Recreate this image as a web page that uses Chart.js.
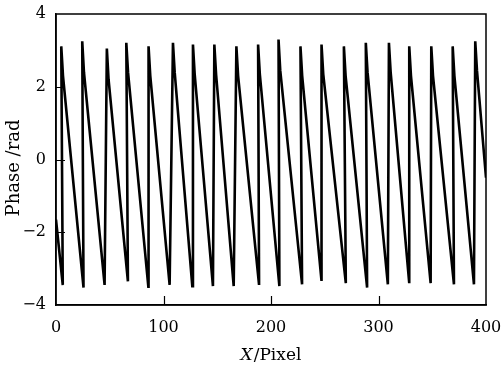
<!DOCTYPE html>
<html>
<head>
<meta charset="utf-8">
<script src="https://cdn.jsdelivr.net/npm/chart.js@4.4.1/dist/chart.umd.min.js"></script>
<style>
  html, body { margin: 0; padding: 0; background: #fff; }
  #wrap { width: 504px; height: 367px; position: relative; }
</style>
</head>
<body>
<div id="wrap"><canvas id="c" width="504" height="367"></canvas></div>
<script>
// X positions (pixel index) of the wrapped-phase curve
const xPixel = [
  0, 6.3,
  4.9, 6.5, 25.6,
  24.4, 26.0, 45.2,
  47.3, 48.9, 66.9,
  65.4, 67.0, 85.9,
  86.1, 87.7, 105.7,
  108.8, 110.4, 126.8,
  127.4, 129.0, 146.0,
  147.3, 148.9, 165.3,
  167.8, 169.4, 188.9,
  188.0, 189.6, 207.8,
  207.0, 208.6, 228.9,
  227.4, 229.0, 247.0,
  247.0, 248.6, 269.6,
  267.8, 269.4, 289.4,
  288.2, 289.8, 308.7,
  309.7, 311.3, 328.6,
  328.6, 330.2, 348.5,
  349.1, 350.7, 370.2,
  369.0, 370.6, 388.8,
  390.0, 391.6, 400
];
// Wrapped phase values (rad)
const phase = [
  -1.65, -3.45,
  3.11, 2.30, -3.52,
  3.25, 2.40, -3.45,
  3.05, 2.20, -3.35,
  3.21, 2.40, -3.50,
  3.11, 2.30, -3.45,
  3.21, 2.40, -3.48,
  3.16, 2.35, -3.48,
  3.16, 2.35, -3.48,
  3.11, 2.30, -3.45,
  3.16, 2.35, -3.48,
  3.30, 2.45, -3.43,
  3.11, 2.30, -3.34,
  3.16, 2.35, -3.40,
  3.11, 2.30, -3.52,
  3.21, 2.40, -3.43,
  3.21, 2.40, -3.40,
  3.11, 2.30, -3.40,
  3.11, 2.30, -3.43,
  3.11, 2.30, -3.43,
  3.25, 2.45, -0.50
];
const xTicks = [0, 100, 200, 300, 400];
const yTicks = [-4, -2, 0, 2, 4];
const xTitleItalic = 'X';
const xTitleRest = '/Pixel';
const yTitle = 'Phase /rad';

const points = xPixel.map((x, i) => ({ x: x, y: phase[i] }));

const frameAndTicks = {
  id: 'frameAndTicks',
  afterDraw(chart) {
    const ctx = chart.ctx;
    const a = chart.chartArea;
    const xs = chart.scales.x, ys = chart.scales.y;
    ctx.save();
    ctx.strokeStyle = '#000';
    ctx.lineWidth = 1.5;
    ctx.strokeRect(a.left, a.top, a.right - a.left, a.bottom - a.top);
    ctx.lineWidth = 1.2;
    ctx.beginPath();
    xTicks.forEach(v => {
      if (v === xs.min || v === xs.max) return;
      const px = Math.round(xs.getPixelForValue(v)) + 0.5;
      ctx.moveTo(px, a.bottom);
      ctx.lineTo(px, a.bottom - 9);
    });
    yTicks.forEach(v => {
      if (v === ys.min || v === ys.max) return;
      const py = Math.round(ys.getPixelForValue(v)) + 0.5;
      ctx.moveTo(a.left, py);
      ctx.lineTo(a.left + 9, py);
    });
    ctx.stroke();
    // x axis title with italic X
    const fItal = 'italic 17px "DejaVu Serif"';
    const fReg = '17px "DejaVu Serif"';
    ctx.fillStyle = '#000';
    ctx.textBaseline = 'alphabetic';
    ctx.textAlign = 'left';
    ctx.font = fItal;
    const w1 = ctx.measureText(xTitleItalic).width;
    ctx.font = fReg;
    const w2 = ctx.measureText(xTitleRest).width;
    const cx = (a.left + a.right) / 2;
    const x0 = cx - (w1 + w2 + 1) / 2;
    ctx.font = fItal;
    ctx.fillText(xTitleItalic, x0, 360);
    ctx.font = fReg;
    ctx.fillText(xTitleRest, x0 + w1 + 1, 360);
    // y axis title
    ctx.save();
    ctx.translate(19, 168);
    ctx.rotate(-Math.PI / 2);
    ctx.textAlign = 'center';
    ctx.font = '18px "DejaVu Serif"';
    ctx.fillText(yTitle, 0, 0);
    ctx.restore();
    ctx.restore();
  }
};

const fmt = v => (v < 0 ? '\u2212' + Math.abs(v) : String(v));

new Chart(document.getElementById('c'), {
  type: 'scatter',
  data: {
    datasets: [{
      data: points,
      showLine: true,
      borderColor: '#000',
      backgroundColor: '#000',
      borderWidth: 2.6,
      pointRadius: 0,
      tension: 0,
      borderJoinStyle: 'miter'
    }]
  },
  options: {
    responsive: false,
    animation: false,
    devicePixelRatio: 1,
    layout: { padding: { top: 14, right: 18, left: 0, bottom: 0 } },
    plugins: { legend: { display: false }, tooltip: { enabled: false } },
    scales: {
      x: {
        type: 'linear',
        min: 0, max: 400,
        afterBuildTicks: s => { s.ticks = xTicks.map(v => ({ value: v })); },
        afterFit: s => {
          s.height = 62;
          s.paddingLeft = 0; s.paddingRight = 0; s.paddingTop = 0; s.paddingBottom = 0;
        },
        grid: { display: false, drawTicks: false },
        border: { display: true, color: '#000', width: 1.5 },
        ticks: {
          color: '#000',
          padding: 13,
          maxRotation: 0,
          font: { family: 'DejaVu Serif', size: 16 },
          callback: v => fmt(v)
        },
        title: { display: false }
      },
      y: {
        type: 'linear',
        min: -4, max: 4,
        afterBuildTicks: s => { s.ticks = yTicks.map(v => ({ value: v })); },
        afterFit: s => {
          s.width = 56;
          s.paddingLeft = 0; s.paddingRight = 0; s.paddingTop = 0; s.paddingBottom = 0;
        },
        grid: { display: false, drawTicks: false },
        border: { display: true, color: '#000', width: 1.5 },
        ticks: {
          color: '#000',
          padding: 10,
          font: { family: 'DejaVu Serif', size: 16 },
          callback: v => fmt(v)
        },
        title: { display: false }
      }
    }
  },
  plugins: [frameAndTicks]
});
</script>
</body>
</html>
